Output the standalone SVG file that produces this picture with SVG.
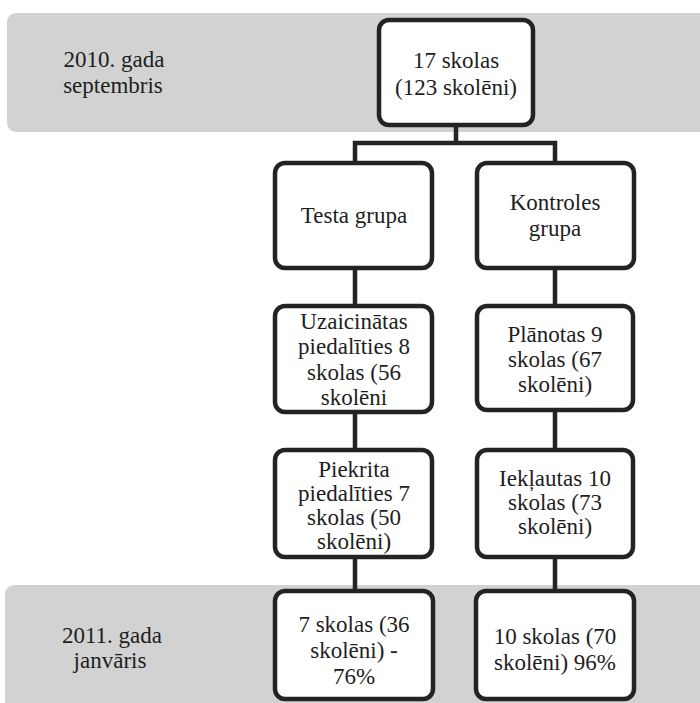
<svg xmlns="http://www.w3.org/2000/svg" width="700" height="703" viewBox="0 0 700 703">
<style>
.band{fill:#d2d2d2;}
.box{fill:#ffffff;stroke:#232323;stroke-width:4.5;}
.con{stroke:#232323;stroke-width:4.5;fill:none;}
text{font-family:'Liberation Serif','DejaVu Serif',serif;font-size:23px;fill:#1e1e1e;text-anchor:middle;}
</style>
<rect width="700" height="703" fill="#ffffff"/>
<rect class="band" x="7" y="13" width="705" height="119" rx="9"/>
<rect class="band" x="5" y="585" width="707" height="130" rx="9"/>
<g id="label-2010" font-family="Liberation Serif, DejaVu Serif, serif">
<text x="114" y="67">2010. gada</text>
<text x="113" y="93">septembris</text>
</g>
<g id="label-2011" font-family="Liberation Serif, DejaVu Serif, serif">
<text x="112" y="643">2011. gada</text>
<text x="110" y="668">janvāris</text>
</g>
<g id="connectors">
<path class="con" d="M456 125V143M355 163V143H555V163"/>
<path class="con" d="M355 268V305M355 412V450M355 557V591"/>
<path class="con" d="M555 268V305M555 410V450M555 557V591"/>
</g>
<g id="n-total">
<rect class="box" x="379" y="20" width="154" height="105" rx="10"/>
<text x="456" y="68">17 skolas</text>
<text x="456" y="95">(123 skolēni)</text>
</g>
<g id="n-testa">
<rect class="box" x="275" y="163" width="157" height="105" rx="10"/>
<text x="354" y="223">Testa grupa</text>
</g>
<g id="n-kontroles">
<rect class="box" x="477" y="163" width="157" height="105" rx="10"/>
<text x="555" y="210">Kontroles</text>
<text x="555" y="236">grupa</text>
</g>
<g id="n-uzaicinatas">
<rect class="box" x="275" y="306" width="157" height="106" rx="10"/>
<text x="354" y="329">Uzaicinātas</text>
<text x="354" y="354">piedalīties 8</text>
<text x="354" y="380">skolas (56</text>
<text x="354" y="405">skolēni</text>
</g>
<g id="n-planotas">
<rect class="box" x="477" y="306" width="156" height="104" rx="10"/>
<text x="555" y="342">Plānotas 9</text>
<text x="555" y="367">skolas (67</text>
<text x="555" y="392">skolēni)</text>
</g>
<g id="n-piekrita">
<rect class="box" x="275" y="450" width="157" height="107" rx="10"/>
<text x="354" y="477">Piekrita</text>
<text x="354" y="501">piedalīties 7</text>
<text x="354" y="525">skolas (50</text>
<text x="354" y="549">skolēni)</text>
</g>
<g id="n-ieklautas">
<rect class="box" x="477" y="450" width="156" height="107" rx="10"/>
<text x="555" y="486">Iekļautas 10</text>
<text x="555" y="510">skolas (73</text>
<text x="555" y="534">skolēni)</text>
</g>
<g id="n-testa-result">
<rect class="box" x="275" y="591" width="158" height="108" rx="10"/>
<text x="354" y="632">7 skolas (36</text>
<text x="354" y="658">skolēni) -</text>
<text x="354" y="684">76%</text>
</g>
<g id="n-kontroles-result">
<rect class="box" x="476" y="591" width="158" height="108" rx="10"/>
<text x="555" y="644">10 skolas (70</text>
<text x="555" y="670">skolēni) 96%</text>
</g>
</svg>
